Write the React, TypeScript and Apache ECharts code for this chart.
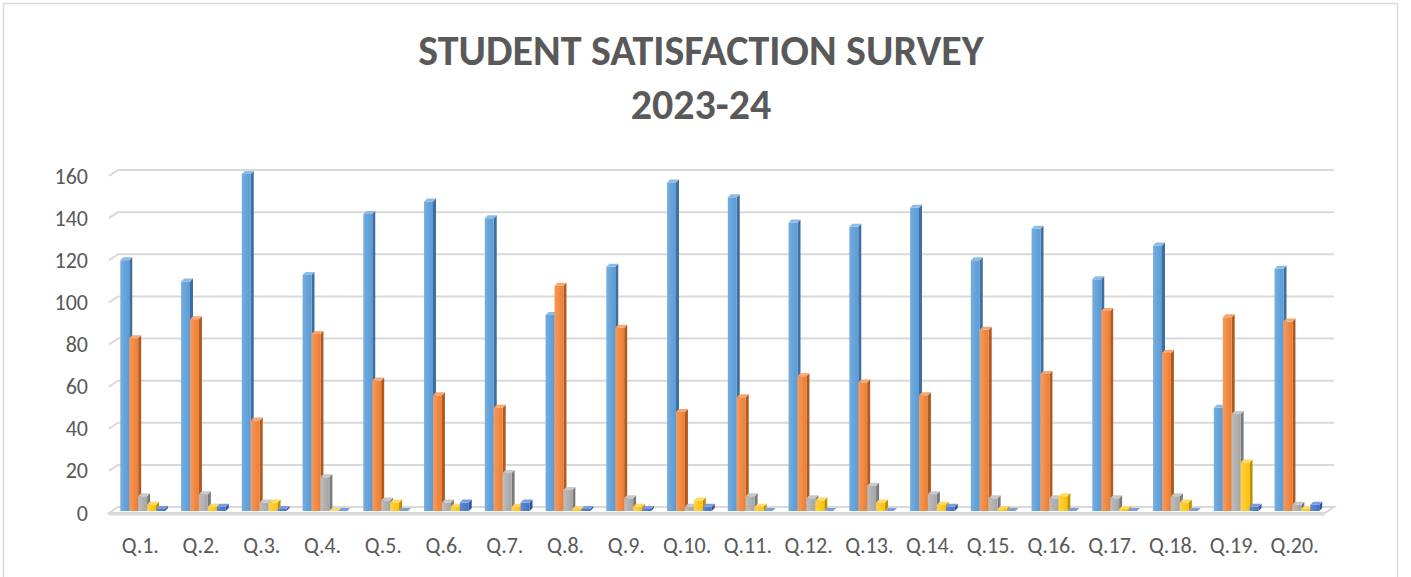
import React, { useEffect, useRef } from "react";
import * as echarts from "echarts";

const categories = ["Q.1.", "Q.2.", "Q.3.", "Q.4.", "Q.5.", "Q.6.", "Q.7.", "Q.8.", "Q.9.", "Q.10.", "Q.11.", "Q.12.", "Q.13.", "Q.14.", "Q.15.", "Q.16.", "Q.17.", "Q.18.", "Q.19.", "Q.20."];
const blueValues = [119, 109, 160, 112, 141, 147, 139, 93, 116, 156, 149, 137, 135, 144, 119, 134, 110, 126, 49, 115];
const orangeValues = [82, 91, 43, 84, 62, 55, 49, 107, 87, 47, 54, 64, 61, 55, 86, 65, 95, 75, 92, 90];
const grayValues = [7, 8, 4, 16, 5, 4, 18, 10, 6, 2, 7, 6, 12, 8, 6, 6, 6, 7, 46, 3];
const yellowValues = [3, 2, 4, 0, 4, 2, 2, 1, 2, 5, 2, 5, 4, 3, 1, 7, 1, 4, 23, 1];
const darkBlueValues = [1, 2, 1, 0, 0, 4, 4, 1, 1, 2, 0, 0, 0, 2, 0, 0, 0, 0, 2, 3];
const yTicks = [0, 20, 40, 60, 80, 100, 120, 140, 160];
const titleLines = ["STUDENT SATISFACTION SURVEY", "2023-24"];

const palettes = [
  { light: "#74ade0", base: "#5b9bd5", side: "#3f6f9e", top: "#8bbce6" },
  { light: "#f59a5e", base: "#ed7d31", side: "#b05a1f", top: "#f6a774" },
  { light: "#bdbdbd", base: "#a5a5a5", side: "#7a7a7a", top: "#c8c8c8" },
  { light: "#ffd24d", base: "#ffc000", side: "#bf8f00", top: "#ffd966" },
  { light: "#5d89d6", base: "#4472c4", side: "#2f5597", top: "#7b9ddb" },
];
const seriesValues = [blueValues, orangeValues, grayValues, yellowValues, darkBlueValues];
const seriesNames = ["Series 1", "Series 2", "Series 3", "Series 4", "Series 5"];

const FONT = "Carlito, Calibri, Lato, 'Open Sans', sans-serif";

function barRenderer(idx: number) {
  const p = palettes[idx];
  return (params: any, api: any) => {
    const ci = api.value(0);
    const v = api.value(1);
    const base = api.coord([ci, 0]);
    const topPt = api.coord([ci, v]);
    const band = api.size([1, 0])[0];
    const bw = band * 0.147;
    const cx = base[0];
    const y0 = base[1] - 2;
    const y1 = topPt[1] - 2;
    const x0 = cx - band * 0.33 + idx * bw;
    const dx = 3;
    const dy = 3;
    return {
      type: "group",
      children: [
        {
          type: "polygon",
          shape: { points: [[x0 + bw, y1], [x0 + bw + dx, y1 - dy], [x0 + bw + dx, y0 - dy], [x0 + bw, y0]] },
          style: { fill: p.side },
        },
        {
          type: "rect",
          shape: { x: x0, y: y1, width: bw, height: Math.max(0, y0 - y1) },
          style: {
            fill: {
              type: "linear", x: 0, y: 0, x2: 1, y2: 0,
              colorStops: [{ offset: 0, color: p.light }, { offset: 1, color: p.base }],
            },
          },
        },
        {
          type: "polygon",
          shape: { points: [[x0, y1], [x0 + dx, y1 - dy], [x0 + bw + dx, y1 - dy], [x0 + bw, y1]] },
          style: { fill: p.top },
        },
      ],
    };
  };
}

function wallRenderer(params: any, api: any) {
  const v = api.value(1);
  const cs = params.coordSys;
  const y = api.coord([0, v])[1];
  const left = cs.x;
  const right = cs.x + cs.width;
  const wdx = 9;
  const wdy = 6;
  if (v === 0) {
    return {
      type: "group",
      children: [
        {
          type: "polygon",
          shape: { points: [[left - 1, y], [left - 1 + wdx, y - wdy], [right + wdx, y - wdy], [right, y]] },
          style: { fill: "#ffffff", stroke: "#d9d9d9", lineWidth: 2 },
        },
        {
          type: "line",
          shape: { x1: left - 1, y1: y + 1, x2: right, y2: y + 1 },
          style: { stroke: "#d9d9d9", lineWidth: 3 },
        },
      ],
    };
  }
  return {
    type: "polyline",
    shape: { points: [[left - 1, y], [left - 1 + wdx, y - wdy], [right + wdx, y - wdy]] },
    style: { fill: "none", stroke: "#d9d9d9", lineWidth: 2 },
  };
}

export default function App() {
  const ref = useRef<HTMLDivElement>(null);
  useEffect(() => {
    if (!ref.current) return;
    const chart = echarts.init(ref.current, null, { renderer: "svg" });
    const barSeries = seriesValues.map((vals, idx) => ({
      type: "custom",
      name: seriesNames[idx],
      renderItem: barRenderer(idx),
      encode: { x: 0, y: 1 },
      data: categories.map((_, i) => [i, vals[i]]),
      z: 3,
    }));
    const titleStyle = {
      fill: "#595959",
      fontSize: 42,
      fontWeight: "bold",
      fontFamily: FONT,
      textAlign: "center",
      textVerticalAlign: "middle",
      align: "center",
      verticalAlign: "middle",
    };
    chart.setOption({
      animation: false,
      backgroundColor: "#ffffff",
      grid: { left: 110, right: 86, top: 176, bottom: 64 },
      xAxis: {
        type: "category",
        data: categories,
        axisLine: { show: false },
        axisTick: { show: false },
        splitLine: { show: false },
        axisLabel: { color: "#595959", fontSize: 22, margin: 21, fontFamily: FONT, interval: 0 },
      },
      yAxis: {
        type: "value",
        min: 0,
        max: 160,
        interval: 20,
        axisLine: { show: false },
        axisTick: { show: false },
        splitLine: { show: false },
        axisLabel: { color: "#595959", fontSize: 22, margin: 22, fontFamily: FONT },
      },
      graphic: [
        {
          type: "rect",
          shape: { x: 3.5, y: 3.5, width: 1394, height: 700 },
          style: { fill: "none", stroke: "#d9d9d9", lineWidth: 1.5 },
          silent: true,
          z: -10,
        },
        { type: "text", x: 701, y: 50, style: { ...titleStyle, text: titleLines[0] } },
        { type: "text", x: 701, y: 104, style: { ...titleStyle, text: titleLines[1] } },
      ],
      series: [
        {
          type: "custom",
          name: "walls",
          renderItem: wallRenderer,
          encode: { x: 0, y: 1 },
          data: yTicks.map((t) => [0, t]),
          z: 1,
          silent: true,
        },
        ...barSeries,
      ],
    });
    return () => chart.dispose();
  }, []);
  return <div ref={ref} style={{ position: "absolute", left: 0, top: 0, width: 1411, height: 577 }} />;
}
